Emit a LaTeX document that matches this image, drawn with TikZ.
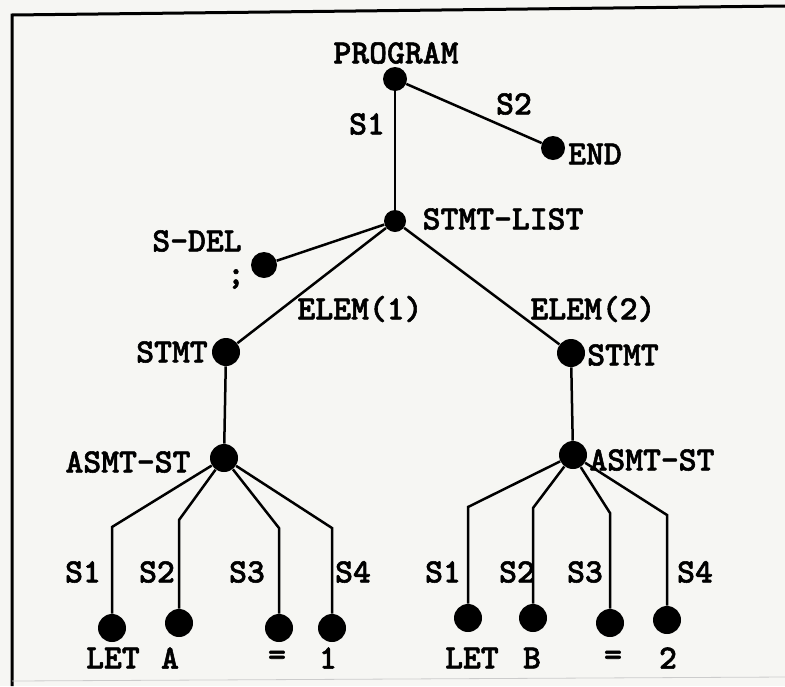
\documentclass[tikz,border=0pt]{standalone}
\usepackage{fontspec}
\setmonofont{lmmonolt10-bold.otf}[FakeBold=1.6]
\definecolor{paper}{RGB}{246,246,243}
\begin{document}
\begin{tikzpicture}[x=.5pt,y=-.5pt,
    font=\ttfamily\fontsize{17}{17}\selectfont,
    dot/.style={circle,fill,inner sep=0pt,minimum size=12pt},
    leaf/.style={dot,minimum size=14pt},
    edge/.style={line width=1.25pt}]
  \fill[paper] (0,0) rectangle (785,686);
  \useasboundingbox (0,0) rectangle (785,686);
  % frame
  \draw[line width=1.5pt] (12,686)--(12,15)--(785,6);
  \draw[gray!40] (12,681)--(785,677);
  % upper part of the tree
  \node[dot] (prog) at (395,79) {};
  \node[dot] (end) at (553,148) {};
  \node[dot,minimum size=11pt] (list) at (395,221) {};
  \node[dot,minimum size=13pt] (sdel) at (264,265) {};
  \node[leaf] (stmtL) at (226,352) {};
  \node[leaf] (stmtR) at (571,353) {};
  \node[leaf] (asmtL) at (224,458) {};
  \node[leaf] (asmtR) at (573,455) {};
  \draw[edge] (prog)--(end);
  \draw[edge] (prog)--(list);
  \draw[edge] (list)--(sdel);
  \draw[edge] (list)--(stmtL);
  \draw[edge] (list)--(stmtR);
  \draw[edge] (stmtL)--(asmtL);
  \draw[edge] (stmtR)--(asmtR);
  \node (progt) at (396,53) {PROGRAM};
  \node (s1t) at (367,124) {S1};
  \node (s2t) at (514,104) {S2};
  \node (endt) at (595,154) {END};
  \node (listt) at (503,219) {STMT-LIST};
  \node (sdelt) at (197,241) {S-DEL};
  \node (semi) at (236,279) {;};
  \node (e1t) at (360,309) {ELEM(1)};
  \node (e2t) at (593,309) {ELEM(2)};
  \node (stmtLt) at (172,352) {STMT};
  \node (stmtRt) at (623,355) {STMT};
  \node (asmtLt) at (128,462) {ASMT-ST};
  \node (asmtRt) at (652,460) {ASMT-ST};
  % the four parts of each assignment
  \foreach \n/\p/\x/\y/\b/\s/\sx/\t/\tx in {
      a1/asmtL/112/628/527/S1/83/LET/113,
      a2/asmtL/179/623/520/S2/157/A/170,
      a3/asmtL/279/628/528/S3/247/=/277,
      a4/asmtL/332/628/528/S4/353/1/328,
      b1/asmtR/468/618/507/S1/443/LET/472,
      b2/asmtR/533/618/508/S2/517/B/532,
      b3/asmtR/610/623/513/S3/585/=/613,
      b4/asmtR/667/620/515/S4/695/2/668}{
    \node[leaf] (\n) at (\x,\y) {};
    \draw[edge] (\p)--(\x,\b)--(\n);
    \node (\n s) at (\sx,572) {\s};
    \node (\n t) at (\tx,658) {\t};
  }
\end{tikzpicture}
\end{document}
